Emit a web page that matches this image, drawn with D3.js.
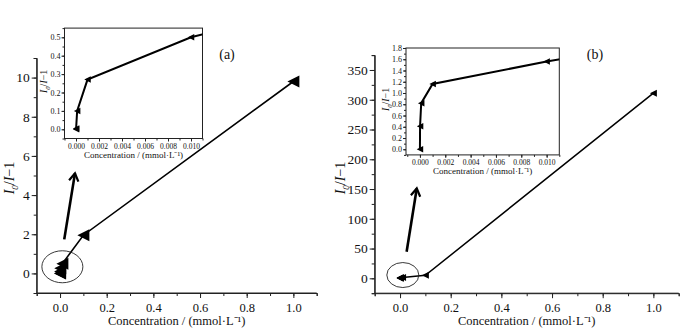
<!DOCTYPE html>
<html><head><meta charset="utf-8">
<script src="https://cdn.jsdelivr.net/npm/d3@7"></script>
<style>
body{margin:0;background:#fff;}
svg{display:block;font-family:"Liberation Serif","Times New Roman",serif;}
</style></head>
<body>
<svg id="c" width="697" height="334"></svg>
<script>
// ---------- data ----------
const concA = [0, 0.00001, 0.0001, 0.001, 0.01, 0.1, 1.0];
const ratioA = [0.0, 0.005, 0.1, 0.27, 0.5, 1.95, 9.8];
const concB = [0, 0.00001, 0.0001, 0.001, 0.01, 0.1, 1.0];
const ratioB = [0.0, 0.41, 0.82, 1.16, 1.56, 5, 311];

const mainXTicks = [0.0, 0.2, 0.4, 0.6, 0.8, 1.0];
const mainYTicksA = [0, 2, 4, 6, 8, 10];
const mainYTicksB = [0, 50, 100, 150, 200, 250, 300, 350];
const insetXTicks = [0.000, 0.002, 0.004, 0.006, 0.008, 0.010];
const insetYTicksA = [0.0, 0.1, 0.2, 0.3, 0.4, 0.5];
const insetYTicksB = [0.0, 0.2, 0.4, 0.6, 0.8, 1.0, 1.2, 1.4, 1.6, 1.8];
const xLabel = "Concentration / (mmol·L⁻¹)";

const FONT = "Liberation Serif, Times New Roman, serif";
const svg = d3.select("#c");
const triPath = s => `M${-s/2},0L${s/2},${-s/2}L${s/2},${s/2}Z`;

function yLabel(g, x, y, size) {
  const t = g.append("text").attr("transform", `translate(${x},${y}) rotate(-90)`)
    .attr("text-anchor", "middle").attr("font-size", size).attr("fill", "#111").attr("font-family", FONT);
  t.append("tspan").attr("font-style", "italic").text("I");
  t.append("tspan").attr("font-style", "italic").attr("font-size", size*0.65).attr("dy", size*0.25).text("0");
  t.append("tspan").attr("dy", -size*0.25).text("/");
  t.append("tspan").attr("font-style", "italic").text("I");
  t.append("tspan").text("−1");
}

function styleAxis(g, fs) {
  g.attr("font-family", FONT);
  g.selectAll("path.domain").attr("stroke", "#222").attr("stroke-width", 1);
  g.selectAll(".tick line").attr("stroke", "#222");
  g.selectAll(".tick text").attr("font-size", fs).attr("fill", "#111").attr("font-family", FONT);
}

function mainChart(cfg) {
  const g = svg.append("g");
  const x = d3.scaleLinear().domain([-0.1, 1.1]).range(cfg.xr);
  const y = d3.scaleLinear().domain(cfg.yd).range(cfg.yr);
  const gxm = g.append("g").attr("transform", `translate(0,${cfg.yr[0]})`)
    .call(d3.axisBottom(x).tickValues(d3.range(-0.1, 1.1001, 0.1)).tickSize(3).tickFormat(""));
  const gym = g.append("g").attr("transform", `translate(${cfg.xr[0]},0)`)
    .call(d3.axisLeft(y).tickValues(cfg.yminor).tickSize(3).tickFormat(""));
  styleAxis(gxm, 12); styleAxis(gym, 12);
  const gx = g.append("g").attr("transform", `translate(0,${cfg.yr[0]})`)
    .call(d3.axisBottom(x).tickValues(mainXTicks).tickSize(5).tickPadding(5).tickFormat(d3.format(".1f")));
  const gy = g.append("g").attr("transform", `translate(${cfg.xr[0]},0)`)
    .call(d3.axisLeft(y).tickValues(cfg.yticks).tickSize(5).tickPadding(2).tickFormat(d3.format("d")));
  styleAxis(gx, 12.5); styleAxis(gy, 13.5);
  gx.select("path.domain").attr("d", `M${cfg.xr[0]},0H${cfg.xr[1]}`);
  gy.select("path.domain").attr("d", `M0,${cfg.yr[0]}V${cfg.yr[1]}`);

  g.append("text").attr("x", (x(0)+x(1))/2).attr("y", 325).attr("text-anchor", "middle")
    .attr("font-size", 12.5).attr("fill", "#111").attr("font-family", FONT).text(xLabel);
  yLabel(g, cfg.ylx, 178, 14);

  const pts = cfg.conc.map((c, i) => [c, cfg.ratio[i]]);
  g.append("path").datum(pts).attr("fill", "none").attr("stroke", "#000").attr("stroke-width", cfg.lw)
    .attr("d", d3.line().x(d => x(d[0])).y(d => y(d[1])));
  g.selectAll("path.m").data(pts).join("path").attr("class", "m")
    .attr("transform", d => `translate(${x(d[0])},${y(d[1])})`)
    .attr("d", triPath(cfg.ms)).attr("fill", "#000");

  g.append("ellipse").attr("cx", x(cfg.ell[0])).attr("cy", y(cfg.ell[1]))
    .attr("rx", cfg.ell[2]).attr("ry", cfg.ell[3]).attr("fill", "none").attr("stroke", "#222").attr("stroke-width", 0.9);
  const ax0 = x(cfg.arrow[0]), ay0 = y(cfg.arrow[1]), ax1 = x(cfg.arrow[2]), ay1 = y(cfg.arrow[3]);
  g.append("line").attr("x1", ax0).attr("y1", ay0).attr("x2", ax1).attr("y2", ay1)
    .attr("stroke", "#000").attr("stroke-width", 2.6);
  const ang = Math.atan2(ay1 - ay0, ax1 - ax0);
  const L = 9, sp = 0.55;
  const p1 = [ax1 - L*Math.cos(ang - sp), ay1 - L*Math.sin(ang - sp)];
  const p2 = [ax1 - L*Math.cos(ang + sp), ay1 - L*Math.sin(ang + sp)];
  g.append("path").attr("d", `M${p1}L${ax1},${ay1}L${p2}`).attr("fill", "none")
    .attr("stroke", "#000").attr("stroke-width", 2.2).attr("stroke-linejoin", "miter");

  g.append("text").attr("x", cfg.tag[0]).attr("y", cfg.tag[1]).attr("font-size", 14)
    .attr("fill", "#111").attr("text-anchor", "middle").attr("font-family", FONT).text(cfg.tagText);
  return g;
}

function inset(cfg) {
  const g = svg.append("g");
  const x = d3.scaleLinear().domain(cfg.xd).range(cfg.xr);
  const y = d3.scaleLinear().domain(cfg.yd).range(cfg.yr);
  const clipId = "clip" + cfg.id;
  g.append("clipPath").attr("id", clipId).append("rect")
    .attr("x", cfg.xr[0]).attr("y", cfg.yr[1]).attr("width", cfg.xr[1]-cfg.xr[0]).attr("height", cfg.yr[0]-cfg.yr[1]);
  g.append("rect").attr("x", cfg.xr[0]).attr("y", cfg.yr[1]).attr("width", cfg.xr[1]-cfg.xr[0])
    .attr("height", cfg.yr[0]-cfg.yr[1]).attr("fill", "#fff").attr("stroke", "#222").attr("stroke-width", 1);
  const gxm = g.append("g").attr("transform", `translate(0,${cfg.yr[0]})`)
    .call(d3.axisBottom(x).tickValues(d3.range(-0.001, 0.0111, 0.001)).tickSize(2).tickFormat(""));
  const gym = g.append("g").attr("transform", `translate(${cfg.xr[0]},0)`)
    .call(d3.axisLeft(y).tickValues(cfg.yminor).tickSize(2).tickFormat(""));
  styleAxis(gxm, 7.5); styleAxis(gym, 7.5);
  const gx = g.append("g").attr("transform", `translate(0,${cfg.yr[0]})`)
    .call(d3.axisBottom(x).tickValues(insetXTicks).tickSize(3).tickPadding(2).tickFormat(d3.format(".3f")));
  const gy = g.append("g").attr("transform", `translate(${cfg.xr[0]},0)`)
    .call(d3.axisLeft(y).tickValues(cfg.yticks).tickSize(3).tickPadding(1).tickFormat(d3.format(".1f")));
  styleAxis(gx, 7.5); styleAxis(gy, 8);
  [gxm, gym, gx, gy].forEach(a => a.select("path.domain").remove());
  g.append("text").attr("x", (cfg.xr[0]+cfg.xr[1])/2).attr("y", cfg.yr[0] + 19).attr("text-anchor", "middle")
    .attr("font-size", 9).attr("fill", "#111").attr("font-family", FONT).text(xLabel);
  yLabel(g, cfg.ylx, (cfg.yr[0]+cfg.yr[1])/2 - 2, 10);

  const pts = cfg.conc.map((c, i) => [c, cfg.ratio[i]]);
  const pg = g.append("g").attr("clip-path", `url(#${clipId})`);
  pg.append("path").datum(pts).attr("fill", "none").attr("stroke", "#000").attr("stroke-width", 2)
    .attr("d", d3.line().x(d => x(d[0])).y(d => y(d[1])));
  pg.selectAll("path.m").data(pts).join("path").attr("class", "m")
    .attr("transform", d => `translate(${x(d[0])},${y(d[1])})`)
    .attr("d", triPath(6.5)).attr("fill", "#000");
}

mainChart({
  conc: concA, ratio: ratioA, xr: [36.7, 316.7], yd: [-1, 11], yr: [293, 58],
  yticks: mainYTicksA, yminor: d3.range(-1, 11.01, 1), ylx: 14, lw: 1.6, ms: 12,
  ell: [0.01, 0.34, 20.5, 16], arrow: [0.018, 1.74, 0.064, 5.11],
  tag: [227, 59], tagText: "(a)"
});
mainChart({
  conc: concB, ratio: ratioB, xr: [374.7, 678.7], yd: [-25, 375], yr: [293.2, 55.1],
  yticks: mainYTicksB, yminor: d3.range(-25, 375.01, 25), ylx: 345, lw: 1.5, ms: 7,
  ell: [0.011, 5.5, 16, 12.5], arrow: [0.026, 44.7, 0.066, 151],
  tag: [595, 59], tagText: "(b)"
});
inset({
  id: "a", conc: concA, ratio: ratioA, xd: [-0.001, 0.011], xr: [64.5, 202.5],
  yd: [-0.05, 0.55], yr: [138.5, 28.1], yticks: insetYTicksA, yminor: d3.range(-0.05, 0.551, 0.05), ylx: 47
});
inset({
  id: "b", conc: concB, ratio: ratioB, xd: [-0.0011, 0.011], xr: [406, 559.3],
  yd: [-0.1, 1.8], yr: [154.9, 48], yticks: insetYTicksB, yminor: d3.range(-0.1, 1.801, 0.1), ylx: 389
});
</script>
</body></html>
